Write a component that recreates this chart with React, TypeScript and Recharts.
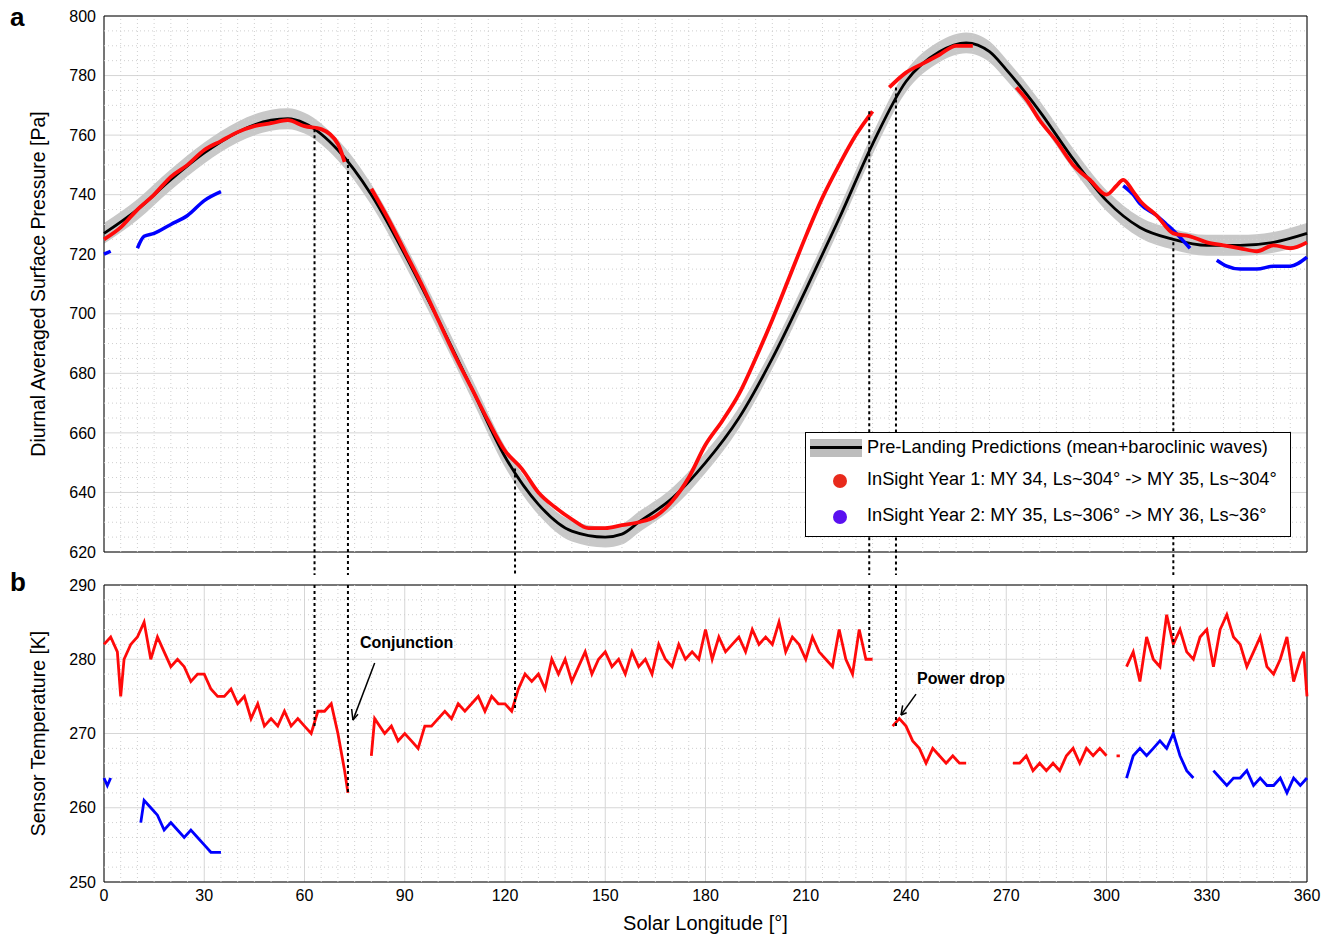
import React from 'react';
import { ComposedChart, Line, Area, XAxis, YAxis, CartesianGrid, ReferenceLine, ReferenceArea } from 'recharts';

type P = [number, number | null];

const xTicks = [0, 30, 60, 90, 120, 150, 180, 210, 240, 270, 300, 330, 360];
const pTicks = [620, 640, 660, 680, 700, 720, 740, 760, 780, 800];
const tTicks = [250, 260, 270, 280, 290];
const xMinor = [5,10,15,20,25,35,40,45,50,55,65,70,75,80,85,95,100,105,110,115,125,130,135,140,145,155,160,165,170,175,185,190,195,200,205,215,220,225,230,235,245,250,255,260,265,275,280,285,290,295,305,310,315,320,325,335,340,345,350,355];
const pMinor = [625,630,635,645,650,655,665,670,675,685,690,695,705,710,715,725,730,735,745,750,755,765,770,775,785,790,795];
const tMinor = [252,254,256,258,262,264,266,268,272,274,276,278,282,284,286,288];

const predA: P[] = [[0,727],[10,735],[20,745],[30,754],[40,761],[50,765],[55,765.5],[60,764],[70,755],[80,740],[90,720],[100,698],[110,675],[120,652],[130,636],[140,627],[150,625],[155,626],[160,630],[170,638],[180,650],[190,665],[200,685],[210,708],[220,732],[230,757],[240,778],[250,788],[258,791],[265,788],[270,782],[280,768],[290,752],[300,738],[310,729],[320,725],[330,723],[340,723],[350,724],[360,727]];

const redA: P[] = [[0,725],[5,729],[10,735],[15,740],[20,746],[25,750],[30,755],[35,758],[40,761],[45,763],[50,764],[55,765],[60,763],[65,762],[70,757],[72,751],[75,null],[80,742],[85,732],[90,721],[95,710],[100,698],[105,686],[110,675],[115,664],[120,654],[125,648],[130,640],[135,635],[140,631],[145,628],[150,628],[155,629],[160,630],[165,632],[170,637],[175,645],[180,656],[185,664],[190,673],[195,685],[200,698],[205,712],[210,726],[215,739],[220,750],[225,760],[230,768],[232,null],[235,776],[240,781],[245,784],[250,787],[255,790],[260,790],[265,null],[273,776],[276,772],[280,765],[285,758],[290,750],[295,745],[300,740],[303,743],[305,745],[308,741],[310,738],[315,733],[320,727],[325,726],[330,724],[335,723],[340,722],[345,721],[350,723],[355,722],[360,724]];

const blueA: P[] = [[0,720],[2,721],[5,null],[10,722],[12,726],[15,727],[20,730],[25,733],[30,738],[35,741],[40,null],[305,743],[308,740],[310,737],[315,733],[318,730],[320,728],[325,722],[328,null],[333,718],[336,716],[340,715],[345,715],[350,716],[355,716],[360,719]];

const redB: P[] = [[0,282],[2,283],[4,281],[5,275],[6,280],[8,282],[10,283],[12,285],[14,280],[16,283],[18,281],[20,279],[22,280],[24,279],[26,277],[28,278],[30,278],[32,276],[34,275],[36,275],[38,276],[40,274],[42,275],[44,272],[46,274],[48,271],[50,272],[52,271],[54,273],[56,271],[58,272],[60,271],[62,270],[64,273],[66,273],[68,274],[70,270],[72,265],[73,262],[76,null],[80,267],[81,272],[84,270],[86,271],[88,269],[90,270],[92,269],[94,268],[96,271],[98,271],[100,272],[102,273],[104,272],[106,274],[108,273],[110,274],[112,275],[114,273],[116,275],[118,274],[120,274],[122,273],[124,276],[126,278],[128,277],[130,278],[132,276],[134,280],[136,278],[138,280],[140,277],[142,279],[144,281],[146,278],[148,280],[150,281],[152,279],[154,280],[156,278],[158,281],[160,279],[162,280],[164,278],[166,282],[168,280],[170,279],[172,282],[174,280],[176,281],[178,280],[180,284],[182,280],[184,283],[186,281],[188,282],[190,283],[192,281],[194,284],[196,282],[198,283],[200,282],[202,285],[204,281],[206,283],[208,282],[210,280],[212,283],[214,281],[216,280],[218,279],[220,284],[222,280],[224,278],[226,284],[228,280],[230,280],[233,null],[236,271],[238,272],[240,271],[242,269],[244,268],[246,266],[248,268],[250,267],[252,266],[254,267],[256,266],[258,266],[265,null],[272,266],[274,266],[276,267],[278,265],[280,266],[282,265],[284,266],[286,265],[288,267],[290,268],[292,266],[294,268],[296,267],[298,268],[300,267],[302,null],[303,267],[304,267],[305,null],[306,279],[308,281],[310,277],[312,283],[314,280],[316,279],[318,286],[320,282],[322,284],[324,281],[326,280],[328,283],[330,284],[332,279],[334,284],[336,286],[338,283],[340,282],[342,279],[344,281],[346,283],[348,279],[350,278],[352,280],[354,283],[356,277],[358,280],[359,281],[360,275]];

const blueB: P[] = [[0,264],[1,263],[2,264],[5,null],[11,258],[12,261],[14,260],[16,259],[18,257],[20,258],[22,257],[24,256],[26,257],[28,256],[30,255],[32,254],[35,254],[40,null],[306,264],[308,267],[310,268],[312,267],[314,268],[316,269],[318,268],[320,270],[322,267],[324,265],[326,264],[328,null],[332,265],[334,264],[336,263],[338,264],[340,264],[342,265],[344,263],[346,264],[348,263],[350,263],[352,264],[354,262],[356,264],[358,263],[360,264]];

// vertical dotted connectors: [Ls, pressure top, temperature bottom]
const connectors: [number, number, number][] = [[63,762,271],[73,752,262],[123,648,273],[229,768,281],[237,776,271],[320,724,270]];

const toData = (a: P[]) => a.map(([x, v]) => ({ x, v }));
const predData = predA.map(([x, v]) => ({ x, v, band: [(v as number) - 3.5, (v as number) + 3.5] }));

const font = 'Liberation Sans, Arial, Helvetica, sans-serif';
const tickStyle = { fontSize: 16, fill: '#000', fontFamily: font };

export default function App() {
  return (
    <div style={{ position: 'relative', width: 1332, height: 938, margin: '-8px 0 0 -8px', fontFamily: font }}>
      <div style={{ position: 'absolute', left: 0, top: 0 }}>
        <ComposedChart width={1332} height={575} margin={{ top: 16, right: 25, left: 44, bottom: 23 }}>
          <XAxis type="number" dataKey="x" domain={[0, 360]} ticks={xTicks} tick={false} height={0} axisLine={false} allowDuplicatedCategory={false} />
          <YAxis type="number" domain={[620, 800]} ticks={pTicks} width={60} tick={tickStyle} tickLine={false} axisLine={false}
            label={{ value: 'Diurnal Averaged Surface Pressure [Pa]', angle: -90, position: 'insideLeft', offset: -6, style: { textAnchor: 'middle', fontSize: 19.5, fill: '#000' } }} />
          {xMinor.map((x) => <ReferenceLine key={'mx' + x} x={x} stroke="#cfcfcf" strokeDasharray="1 3" />)}
          {pMinor.map((y) => <ReferenceLine key={'my' + y} y={y} stroke="#cfcfcf" strokeDasharray="1 3" />)}
          <CartesianGrid stroke="#d6d6d6" strokeWidth={1} />
          <Area data={predData} dataKey="band" type="monotone" stroke="none" fill="#c8c8c8" fillOpacity={1} isAnimationActive={false} />
          <Line data={toData(predA)} dataKey="v" type="monotone" stroke="#000" strokeWidth={2.8} dot={false} isAnimationActive={false} />
          <Line data={toData(blueA)} dataKey="v" type="monotone" stroke="#0000ff" strokeWidth={3.5} dot={false} isAnimationActive={false} />
          <Line data={toData(redA)} dataKey="v" type="monotone" stroke="#ff0a0a" strokeWidth={3.8} dot={false} isAnimationActive={false} />
          {connectors.map(([x, p]) => (
            <ReferenceLine key={'ca' + x} segment={[{ x, y: p }, { x, y: 609 }]} ifOverflow="visible" stroke="#000" strokeWidth={2} strokeDasharray="3 3" />
          ))}
          <ReferenceArea x1={0} x2={360} y1={620} y2={800} fill="none" stroke="#000" strokeWidth={1} />
        </ComposedChart>
      </div>
      <div style={{ position: 'absolute', left: 0, top: 575 }}>
        <ComposedChart width={1332} height={363} margin={{ top: 10, right: 25, left: 44, bottom: 0 }}>
          <XAxis type="number" dataKey="x" domain={[0, 360]} ticks={xTicks} tick={tickStyle} tickLine={false} axisLine={false} height={56} allowDuplicatedCategory={false}
            label={{ value: 'Solar Longitude [°]', position: 'insideBottom', offset: 8, style: { fontSize: 20, fill: '#000' } }} />
          <YAxis type="number" domain={[250, 290]} ticks={tTicks} width={60} tick={tickStyle} tickLine={false} axisLine={false}
            label={{ value: 'Sensor Temperature [K]', angle: -90, position: 'insideLeft', offset: -6, style: { textAnchor: 'middle', fontSize: 19.5, fill: '#000' } }} />
          {xMinor.map((x) => <ReferenceLine key={'bx' + x} x={x} stroke="#cfcfcf" strokeDasharray="1 3" />)}
          {tMinor.map((y) => <ReferenceLine key={'by' + y} y={y} stroke="#cfcfcf" strokeDasharray="1 3" />)}
          <CartesianGrid stroke="#d6d6d6" strokeWidth={1} />
          <Line data={toData(blueB)} dataKey="v" stroke="#0000ff" strokeWidth={2.8} dot={false} isAnimationActive={false} />
          <Line data={toData(redB)} dataKey="v" stroke="#ff0a0a" strokeWidth={2.8} dot={false} isAnimationActive={false} />
          {connectors.map(([x, , t]) => (
            <ReferenceLine key={'cb' + x} segment={[{ x, y: 290 }, { x, y: t }]} ifOverflow="visible" stroke="#000" strokeWidth={2} strokeDasharray="3 3" />
          ))}
          <ReferenceLine segment={[{ x: 81, y: 279.5 }, { x: 74.5, y: 271.8 }]} stroke="#000" strokeWidth={1.5}
            label={{ value: 'Conjunction', position: 'insideTopLeft', dx: 2, dy: -31, style: { fontSize: 16, fontWeight: 'bold', fill: '#000' } }} />
          <ReferenceLine segment={[{ x: 74.5, y: 271.8 }, { x: 74.1, y: 273.3 }]} stroke="#000" strokeWidth={1.5} />
          <ReferenceLine segment={[{ x: 74.5, y: 271.8 }, { x: 76, y: 272.6 }]} stroke="#000" strokeWidth={1.5} />
          <ReferenceLine segment={[{ x: 243, y: 275.3 }, { x: 238.5, y: 272.5 }]} stroke="#000" strokeWidth={1.5}
            label={{ value: 'Power drop', position: 'insideTopLeft', dx: 11, dy: -27, style: { fontSize: 16, fontWeight: 'bold', fill: '#000' } }} />
          <ReferenceLine segment={[{ x: 238.5, y: 272.5 }, { x: 239, y: 273.8 }]} stroke="#000" strokeWidth={1.5} />
          <ReferenceLine segment={[{ x: 238.5, y: 272.5 }, { x: 240.2, y: 272.8 }]} stroke="#000" strokeWidth={1.5} />
          <ReferenceArea x1={0} x2={360} y1={250} y2={290} fill="none" stroke="#000" strokeWidth={1} />
        </ComposedChart>
      </div>
      <div style={{ position: 'absolute', left: 10, top: 2, fontSize: 26, fontWeight: 'bold' }}>a</div>
      <div style={{ position: 'absolute', left: 10, top: 567, fontSize: 26, fontWeight: 'bold' }}>b</div>
      <div style={{ position: 'absolute', left: 805, top: 432, width: 484, height: 103, border: '1px solid #000', background: '#fff', fontSize: 18.2 }}>
        <div style={{ position: 'absolute', left: 4, top: 6, width: 52, height: 18, background: '#bdbdbd' }}>
          <div style={{ position: 'absolute', left: 0, top: 7, width: 52, height: 3, background: '#000' }} />
        </div>
        <div style={{ position: 'absolute', left: 61, top: 4 }}>Pre-Landing Predictions (mean+baroclinic waves)</div>
        <div style={{ position: 'absolute', left: 27, top: 41, width: 14, height: 14, borderRadius: 7, background: '#e82a1c' }} />
        <div style={{ position: 'absolute', left: 61, top: 36 }}>InSight Year 1: MY 34, Ls~304° -&gt; MY 35, Ls~304°</div>
        <div style={{ position: 'absolute', left: 27, top: 77, width: 14, height: 14, borderRadius: 7, background: '#5a10f0' }} />
        <div style={{ position: 'absolute', left: 61, top: 72 }}>InSight Year 2: MY 35, Ls~306° -&gt; MY 36, Ls~36°</div>
      </div>
    </div>
  );
}
